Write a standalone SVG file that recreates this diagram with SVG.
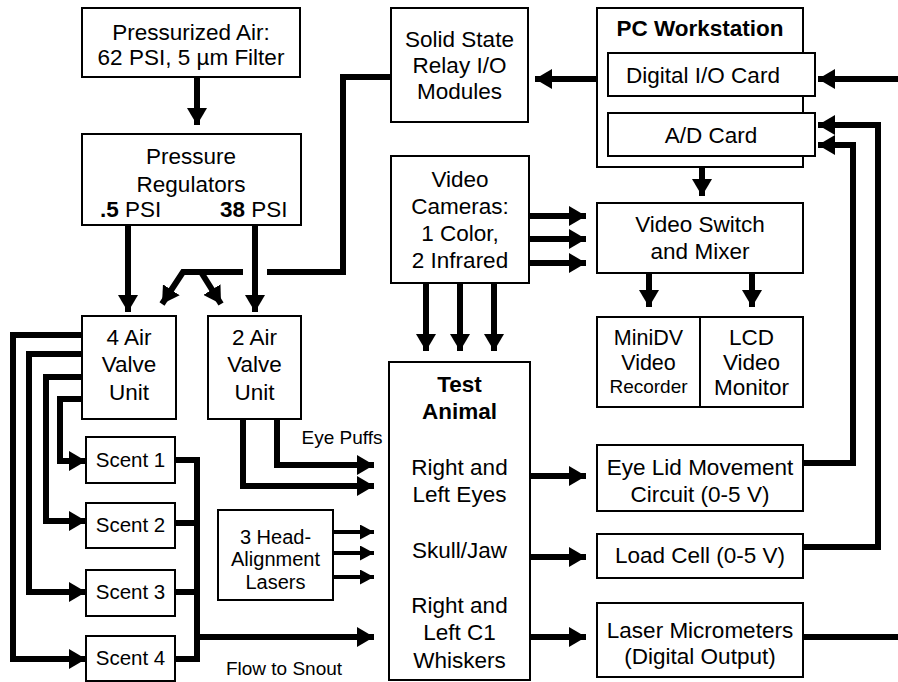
<svg xmlns="http://www.w3.org/2000/svg" width="898" height="682" viewBox="0 0 898 682">
<style>
.box{fill:#fff;stroke:#000;stroke-width:2}
.t{font-family:"Liberation Sans",Arial,sans-serif;font-size:22.5px;fill:#000;text-anchor:middle}
.b{font-weight:bold}
.s{font-size:20.5px}
.m{font-size:21.5px}
.l{font-size:20px}
.xs{font-size:19px}
.c{fill:none;stroke:#000;stroke-width:6;stroke-linejoin:miter;stroke-linecap:butt}
.a{marker-end:url(#ah)}
.sa{fill:none;stroke:#000;stroke-width:4;marker-end:url(#sah)}
</style>
<defs>
<marker id="ah" markerUnits="userSpaceOnUse" markerWidth="17" markerHeight="20" viewBox="0 0 17 20" refX="17" refY="10" orient="auto"><path d="M0,0 L17,10 L0,20 z" fill="#000"/></marker>
<marker id="sah" markerUnits="userSpaceOnUse" markerWidth="14" markerHeight="15" viewBox="0 0 14 15" refX="14" refY="7.5" orient="auto"><path d="M0,0 L14,7.5 L0,15 z" fill="#000"/></marker>
</defs>
<rect width="898" height="682" fill="#fff"/>
<g id="connectors">
<path class="c a" d="M197,77 V125"/>
<path class="c a" d="M128,225 V312"/>
<path class="c a" d="M255,225 V312"/>
<path class="c" d="M391,77 H343 V272 H267"/>
<path class="c a" d="M243,272 H183 L162,304"/>
<path class="c a" d="M201,272 L221,304"/>
<path class="c a" d="M608,79 H535"/>
<path class="c a" d="M898,79 H818"/>
<path class="c a" d="M803,463 H853 V145 H818"/>
<path class="c a" d="M803,547 H878 V125 H818"/>
<path class="c a" d="M702,167 V196"/>
<path class="c a" d="M529,216 H586"/>
<path class="c a" d="M529,239 H586"/>
<path class="c a" d="M529,263 H586"/>
<path class="c a" d="M426,283 V351"/>
<path class="c a" d="M460,283 V351"/>
<path class="c a" d="M494,283 V351"/>
<path class="c a" d="M649,273 V307"/>
<path class="c a" d="M752,273 V307"/>
<path class="c a" d="M530,476 H586"/>
<path class="c a" d="M530,557 H586"/>
<path class="c a" d="M530,637 H586"/>
<path class="c" d="M803,637 H898"/>
<path class="c a" d="M277,419 V465 H374"/>
<path class="c a" d="M243,419 V486 H374"/>
<path class="c a" d="M82,399 H60 V461 H86"/>
<path class="c a" d="M82,377 H46 V521 H86"/>
<path class="c a" d="M82,354 H29 V592 H86"/>
<path class="c a" d="M82,335 H13 V659 H86"/>
<path class="c" d="M175,460 H197 V659 H175 M175,523 H197 M175,592 H197"/>
<path class="c a" d="M197,637 H374"/>
<path class="sa" d="M333,532 H374"/>
<path class="sa" d="M333,553 H374"/>
<path class="sa" d="M333,577 H374"/>
</g>
<g id="air">
<rect class="box" x="82" y="8" width="218" height="69"/>
<text class="t" x="191" y="40">Pressurized Air:</text>
<text class="t" x="191" y="65">62 PSI, 5 µm Filter</text>
</g>
<g id="regulators">
<rect class="box" x="82" y="134" width="219" height="91"/>
<text class="t" x="191" y="164">Pressure</text>
<text class="t" x="191" y="192">Regulators</text>
<text class="t" x="100" y="217" style="text-anchor:start"><tspan class="b">.5</tspan> PSI</text>
<text class="t" x="220" y="217" style="text-anchor:start"><tspan class="b">38</tspan> PSI</text>
</g>
<g id="relay">
<rect class="box" x="391" y="8" width="137" height="114"/>
<text class="t" x="459.5" y="47">Solid State</text>
<text class="t" x="459.5" y="73">Relay I/O</text>
<text class="t" x="459.5" y="99">Modules</text>
</g>
<g id="pc">
<rect class="box" x="597" y="8" width="206" height="159"/>
<text class="t b" x="700" y="36">PC Workstation</text>
</g>
<g id="dio">
<rect class="box" x="608" y="53" width="207" height="43"/>
<text class="t" x="703" y="83">Digital I/O Card</text>
</g>
<g id="adc">
<rect class="box" x="608" y="113" width="207" height="43"/>
<text class="t" x="711" y="143">A/D Card</text>
</g>
<g id="cameras">
<rect class="box" x="391" y="156" width="138" height="127"/>
<text class="t" x="460" y="187">Video</text>
<text class="t" x="460" y="214">Cameras:</text>
<text class="t" x="460" y="241">1 Color,</text>
<text class="t" x="460" y="268">2 Infrared</text>
</g>
<g id="switch">
<rect class="box" x="597" y="203" width="206" height="70"/>
<text class="t" x="700" y="232">Video Switch</text>
<text class="t" x="700" y="259">and Mixer</text>
</g>
<g id="minidv">
<rect class="box" x="597" y="317" width="103" height="90"/>
<text class="t m" x="648.5" y="345">MiniDV</text>
<text class="t m" x="648.5" y="370">Video</text>
<text class="t xs" x="648.5" y="393">Recorder</text>
</g>
<g id="lcd">
<rect class="box" x="700" y="317" width="103" height="90"/>
<text class="t" x="751.5" y="345">LCD</text>
<text class="t" x="751.5" y="370">Video</text>
<text class="t" x="751.5" y="395">Monitor</text>
</g>
<g id="valve4">
<rect class="box" x="82" y="316" width="94" height="103"/>
<text class="t" x="129" y="345">4 Air</text>
<text class="t" x="129" y="372">Valve</text>
<text class="t" x="129" y="400">Unit</text>
</g>
<g id="valve2">
<rect class="box" x="208" y="316" width="93" height="103"/>
<text class="t" x="254.5" y="345">2 Air</text>
<text class="t" x="254.5" y="372">Valve</text>
<text class="t" x="254.5" y="400">Unit</text>
</g>
<g id="animal">
<rect class="box" x="389" y="362" width="141" height="318"/>
<text class="t b" x="459.5" y="392">Test</text>
<text class="t b" x="459.5" y="419">Animal</text>
<text class="t" x="459.5" y="475">Right and</text>
<text class="t" x="459.5" y="502">Left Eyes</text>
<text class="t" x="459.5" y="558">Skull/Jaw</text>
<text class="t" x="459.5" y="613">Right and</text>
<text class="t" x="459.5" y="640">Left C1</text>
<text class="t" x="459.5" y="668">Whiskers</text>
</g>
<g id="eyelid">
<rect class="box" x="597" y="445" width="206" height="66"/>
<text class="t" x="700" y="475">Eye Lid Movement</text>
<text class="t" x="700" y="502">Circuit (0-5 V)</text>
</g>
<g id="loadcell">
<rect class="box" x="597" y="534" width="206" height="44"/>
<text class="t" x="700" y="563">Load Cell (0-5 V)</text>
</g>
<g id="micrometers">
<rect class="box" x="597" y="603" width="206" height="74"/>
<text class="t" x="700" y="638">Laser Micrometers</text>
<text class="t" x="700" y="664">(Digital Output)</text>
</g>
<g id="scent1">
<rect class="box" x="86" y="437" width="89" height="46"/>
<text class="t s" x="130.5" y="467">Scent 1</text>
</g>
<g id="scent2">
<rect class="box" x="86" y="503" width="89" height="45"/>
<text class="t s" x="130.5" y="532">Scent 2</text>
</g>
<g id="scent3">
<rect class="box" x="86" y="570" width="89" height="46"/>
<text class="t s" x="130.5" y="599">Scent 3</text>
</g>
<g id="scent4">
<rect class="box" x="86" y="636" width="89" height="45"/>
<text class="t s" x="130.5" y="665">Scent 4</text>
</g>
<g id="lasers">
<rect class="box" x="218" y="510" width="115" height="90"/>
<text class="t l" x="275.5" y="544">3 Head-</text>
<text class="t l" x="275.5" y="566">Alignment</text>
<text class="t l" x="275.5" y="589">Lasers</text>
</g>
<g id="labels">
<text class="t xs" x="342" y="444">Eye Puffs</text>
<text class="t xs" x="284" y="675">Flow to Snout</text>
</g>
</svg>
